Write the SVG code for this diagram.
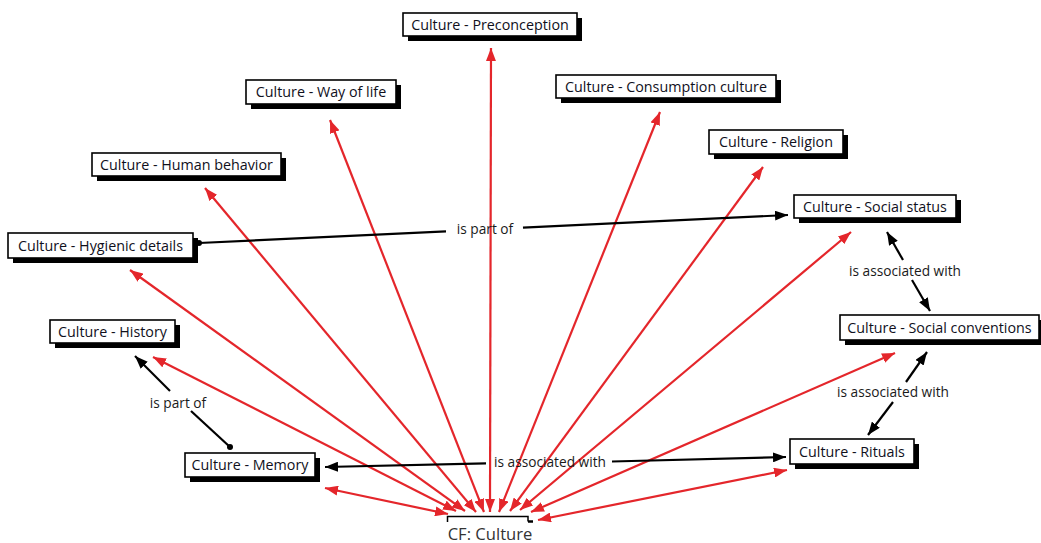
<svg xmlns="http://www.w3.org/2000/svg" width="1041" height="543" viewBox="0 0 1041 543">
<style>
.shadow{fill:#000}
.box{fill:#fff;stroke:#000;stroke-width:1.6}
.nt{font-family:"Open Sans","DejaVu Sans",sans-serif;font-size:14.3px;fill:#10101c;text-anchor:middle}
.lt{font-family:"Open Sans","DejaVu Sans",sans-serif;font-size:13.7px;fill:#1a1a1a;text-anchor:middle}
.red{stroke:#e4262b;stroke-width:2.2;fill:none;marker-start:url(#ra);marker-end:url(#ra)}
.blk{stroke:#000;stroke-width:2.2;fill:none}
</style>
<defs>
<marker id="ra" markerUnits="userSpaceOnUse" markerWidth="14" markerHeight="10" refX="13" refY="5" orient="auto-start-reverse"><path d="M0,0 L13,5 L0,10 z" fill="#e4262b"/></marker>
<marker id="ba" markerUnits="userSpaceOnUse" markerWidth="14" markerHeight="10" refX="13" refY="5" orient="auto-start-reverse"><path d="M0,0 L13,5 L0,10 z" fill="#000"/></marker>
<marker id="dot" markerUnits="userSpaceOnUse" markerWidth="8" markerHeight="8" refX="4" refY="4"><circle cx="4" cy="4" r="3" fill="#000"/></marker>
</defs>
<rect width="1041" height="543" fill="#fff"/>
<g id="connectors">
<path class="red" d="M448,514 L325,488"/>
<path class="red" d="M456,511 L153,357"/>
<path class="red" d="M465,511 L130,270"/>
<path class="red" d="M476,512 L205,188"/>
<path class="red" d="M484,512 L330,120"/>
<path class="red" d="M490,512 L491,48"/>
<path class="red" d="M499,512 L660,112"/>
<path class="red" d="M510,511 L763,167"/>
<path class="red" d="M520,510 L851,232"/>
<path class="red" d="M531,512 L895,353"/>
<path class="red" d="M538,520 L787,470"/>
<path class="blk" d="M199,243 L446,231.3" marker-start="url(#dot)"/>
<path class="blk" d="M523,227.6 L788,215" marker-end="url(#ba)"/>
<text class="lt" x="485" y="234">is part of</text>
<path class="blk" d="M230,447 L191,411" marker-start="url(#dot)"/>
<path class="blk" d="M170,391 L135,356" marker-end="url(#ba)"/>
<text class="lt" x="178" y="408">is part of</text>
<path class="blk" d="M486,463.3 L325,467" marker-end="url(#ba)"/>
<path class="blk" d="M612,461.5 L786,457" marker-end="url(#ba)"/>
<text class="lt" x="550" y="467">is associated with</text>
<path class="blk" d="M903,260 L887,232" marker-end="url(#ba)"/>
<path class="blk" d="M912,280 L930,311" marker-end="url(#ba)"/>
<text class="lt" x="905" y="276">is associated with</text>
<path class="blk" d="M906,382 L927,352" marker-end="url(#ba)"/>
<path class="blk" d="M893,402 L868,435" marker-end="url(#ba)"/>
<text class="lt" x="893" y="397">is associated with</text>
</g>
<g id="cf-culture">
<path d="M447.5,522 V516.5 H528 V521.5" fill="none" stroke="#000" stroke-width="1.5"/>
<path d="M528,521.5 H533" fill="none" stroke="#000" stroke-width="2.5"/>
<text x="490" y="540" font-family="'Open Sans','DejaVu Sans',sans-serif" font-size="16.6" fill="#333" text-anchor="middle">CF: Culture</text>
</g>
<g id="preconception"><rect class="shadow" x="408" y="18" width="174" height="23"/><rect class="box" x="403" y="13" width="174" height="23"/><text class="nt" x="490" y="29.5">Culture - Preconception</text></g>
<g id="way-of-life"><rect class="shadow" x="251" y="85" width="150" height="24"/><rect class="box" x="246" y="80" width="150" height="24"/><text class="nt" x="321" y="97">Culture - Way of life</text></g>
<g id="human-behavior"><rect class="shadow" x="97" y="158" width="189" height="23"/><rect class="box" x="92" y="153" width="189" height="23"/><text class="nt" x="186.5" y="169.5">Culture - Human behavior</text></g>
<g id="consumption-culture"><rect class="shadow" x="561" y="80" width="220" height="23"/><rect class="box" x="556" y="75" width="220" height="23"/><text class="nt" x="666" y="91.5">Culture - Consumption culture</text></g>
<g id="religion"><rect class="shadow" x="714" y="135" width="134" height="24"/><rect class="box" x="709" y="130" width="134" height="24"/><text class="nt" x="776" y="147">Culture - Religion</text></g>
<g id="social-status"><rect class="shadow" x="799" y="200" width="162" height="23"/><rect class="box" x="794" y="195" width="162" height="23"/><text class="nt" x="875" y="211.5">Culture - Social status</text></g>
<g id="social-conventions"><rect class="shadow" x="845" y="320" width="199" height="25"/><rect class="box" x="840" y="315" width="199" height="25"/><text class="nt" x="939.5" y="332.5">Culture - Social conventions</text></g>
<g id="hygienic-details"><rect class="shadow" x="13" y="238" width="185" height="25"/><rect class="box" x="8" y="233" width="185" height="25"/><text class="nt" x="100.5" y="250.5">Culture - Hygienic details</text></g>
<g id="history"><rect class="shadow" x="55" y="325" width="125" height="23"/><rect class="box" x="50" y="320" width="125" height="23"/><text class="nt" x="112.5" y="336.5">Culture - History</text></g>
<g id="memory"><rect class="shadow" x="190" y="458" width="130" height="24"/><rect class="box" x="185" y="453" width="130" height="24"/><text class="nt" x="250" y="470">Culture - Memory</text></g>
<g id="rituals"><rect class="shadow" x="795" y="444" width="124" height="25"/><rect class="box" x="790" y="439" width="124" height="25"/><text class="nt" x="852" y="456.5">Culture - Rituals</text></g>
</svg>
